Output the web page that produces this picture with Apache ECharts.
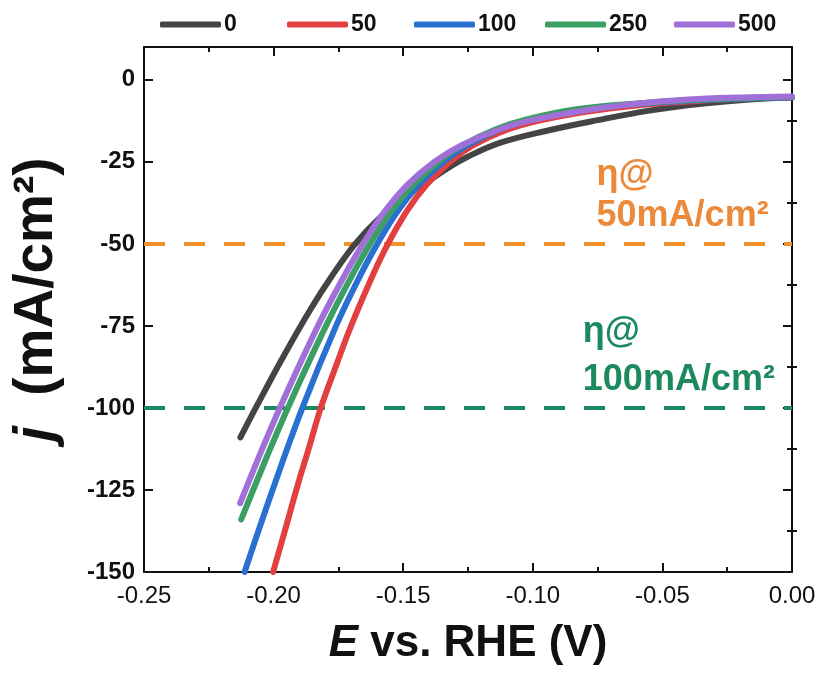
<!DOCTYPE html>
<html>
<head>
<meta charset="utf-8">
<script src="https://cdn.jsdelivr.net/npm/echarts@6/dist/echarts.min.js"></script>
<style>
html,body{margin:0;padding:0;background:#fff;}
#chart{width:824px;height:687px;}
</style>
</head>
<body>
<div id="chart"></div>
<script>
// ---- data (E in V vs RHE, j in mA/cm2) ----
const seriesNames = ['0', '50', '100', '250', '500'];
const seriesColors = ['#444444', '#e2403f', '#2a6fd2', '#3b9e62', '#a070d8'];

const E_0 = [-0.2128,-0.2069,-0.1967,-0.1858,-0.1777,-0.1685,-0.1590,-0.1490,-0.1400,-0.1325,-0.1255,-0.1130,-0.0950,-0.0750,-0.0550,-0.0350,-0.0150,0.0000];
const J_0 = [-109,-100,-85,-70,-60,-50,-42,-35.5,-30.7,-26.8,-23.6,-19.3,-15.6,-12.3,-9.4,-7.3,-5.9,-5.4];

const E_50 = [-0.2002,-0.1955,-0.1907,-0.1863,-0.1818,-0.1770,-0.1701,-0.1620,-0.1559,-0.1486,-0.1410,-0.1320,-0.1231,-0.1110,-0.0980,-0.0800,-0.0600,-0.0400,-0.0200,0.0000];
const J_50 = [-150,-137,-123.5,-112,-100,-89.5,-75,-60,-50,-40,-32,-25,-20,-15.5,-12.5,-9.8,-7.8,-6.6,-5.8,-5.3];

const E_100 = [-0.2112,-0.2004,-0.1889,-0.1759,-0.1668,-0.1600,-0.1521,-0.1440,-0.1345,-0.1254,-0.1124,-0.1004,-0.0817,-0.0600,-0.0400,-0.0200,0.0000];
const J_100 = [-150,-125,-100,-75,-60,-50,-40,-32,-25,-20,-15,-12,-9,-7.4,-6.4,-5.8,-5.3];

const E_250 = [-0.2125,-0.2037,-0.1945,-0.1798,-0.1700,-0.1628,-0.1545,-0.1461,-0.1364,-0.1272,-0.1140,-0.1020,-0.0830,-0.0600,-0.0400,-0.0200,0.0000];
const J_250 = [-134,-117,-100,-75,-60,-50,-40,-32,-25,-20,-15,-12,-9,-7.2,-6.2,-5.6,-5.2];

const E_500 = [-0.2129,-0.2057,-0.1976,-0.1829,-0.1729,-0.1655,-0.1570,-0.1484,-0.1380,-0.1276,-0.1124,-0.0985,-0.0771,-0.0600,-0.0400,-0.0200,0.0000];
const J_500 = [-129,-115,-100,-75,-60,-50,-40,-32,-25,-20,-15,-12,-9,-7.3,-6.0,-5.4,-5.1];

const E_list = [E_0, E_50, E_100, E_250, E_500];
const J_list = [J_0, J_50, J_100, J_250, J_500];

// reference levels
const refLevels = [-50, -100];
const refColors = ['#f2922a', '#1c8a5e'];
const refTextColors = ['#ec8a3c', '#1c8a5e'];
const refTextLines = [['η@', '50mA/cm²'], ['η@', '100mA/cm²']];
const refTextE = [-0.0754, -0.0807];
const refTextJ = [[-29, -41.5], [-77, -91.6]];

// axis ticks
const xMin = -0.25, xMax = 0.0, xStep = 0.05;
const yMin = -150, yMax = 10;
const yMajor = [-150, -125, -100, -75, -50, -25, 0];
const yMinor = [-137.5, -112.5, -87.5, -62.5, -37.5, -12.5];

// legend horizontal starts
const legendLeft = [155, 282, 409, 540, 669];

// ---- chart ----
const chart = echarts.init(document.getElementById('chart'), null, {renderer: 'canvas'});
const FONT = '"Liberation Sans", Arial, sans-serif';

const curveSeries = seriesNames.map((n, i) => ({
  name: n,
  type: 'line',
  xAxisIndex: 0, yAxisIndex: 0,
  data: E_list[i].map((e, k) => [e, J_list[i][k]]),
  showSymbol: false,
  symbol: 'none',
  smooth: 0.4,
  z: 3,
  lineStyle: {color: seriesColors[i], width: 6, cap: 'round', join: 'round'},
  itemStyle: {color: seriesColors[i]}
}));

const markPoints = [];
refTextLines.forEach((lines, i) => {
  lines.forEach((t, k) => {
    markPoints.push({
      coord: [refTextE[i], refTextJ[i][k]],
      symbol: 'circle', symbolSize: 0,
      label: {
        show: true, formatter: t, position: [0, 0], align: 'left', verticalAlign: 'middle',
        color: refTextColors[i], fontFamily: FONT, fontWeight: 'bold', fontSize: 36
      }
    });
  });
});

const refSeries = {
  name: 'ref',
  type: 'line',
  xAxisIndex: 0, yAxisIndex: 0,
  data: [],
  z: 1,
  markLine: {
    silent: true, symbol: ['none', 'none'], z: 1,
    label: {show: false},
    data: refLevels.map((v, i) => ({
      yAxis: v,
      lineStyle: {color: refColors[i], width: 4, type: [21, 19]}
    }))
  },
  markPoint: {silent: true, data: markPoints}
};

const legends = seriesNames.map((n, i) => ({
  data: [n],
  left: legendLeft[i], top: 8,
  icon: 'roundRect', itemWidth: 61, itemHeight: 6,
  itemGap: 0,
  selectedMode: false,
  textStyle: {fontFamily: FONT, fontSize: 23, fontWeight: 'bold', color: '#111', padding: [0, 0, 0, -2]}
}));

const grid = {left: 144, right: 32, top: 47, bottom: 115, containLabel: false};

const axisLine = {show: true, onZero: false, lineStyle: {color: '#111', width: 2}};

const option = {
  backgroundColor: '#ffffff',
  animation: false,
  legend: legends,
  grid: grid,
  xAxis: [
    {
      type: 'value', position: 'bottom', min: xMin, max: xMax, interval: xStep,
      axisLine: axisLine,
      axisTick: {show: true, inside: true, length: 9, lineStyle: {color: '#111', width: 2}},
      minorTick: {show: true, splitNumber: 2, length: 5, lineStyle: {color: '#111', width: 2}},
      splitLine: {show: false}, minorSplitLine: {show: false},
      axisLabel: {
        margin: 12, fontFamily: FONT, fontSize: 24, color: '#111',
        formatter: v => (Math.abs(v) < 1e-9 ? 0 : v).toFixed(2)
      },
      name: '{i|E} vs. RHE (V)', nameLocation: 'middle', nameGap: 50,
      nameTextStyle: {
        fontFamily: FONT, fontSize: 44, fontWeight: 'bold', color: '#111',
        rich: {i: {fontFamily: FONT, fontSize: 44, fontWeight: 'bold', fontStyle: 'italic', color: '#111'}}
      }
    },
    {
      type: 'value', position: 'top', min: xMin, max: xMax, interval: xStep,
      axisLine: axisLine,
      axisTick: {show: true, inside: true, length: 9, lineStyle: {color: '#111', width: 2}},
      minorTick: {show: true, splitNumber: 2, length: 5, lineStyle: {color: '#111', width: 2}},
      splitLine: {show: false},
      axisLabel: {show: false}
    }
  ],
  yAxis: [
    {
      type: 'value', position: 'left', min: yMin, max: yMax,
      axisLine: axisLine,
      axisTick: {show: true, inside: true, length: 9, customValues: yMajor, lineStyle: {color: '#111', width: 2}},
      splitLine: {show: false},
      axisLabel: {
        customValues: yMajor, margin: 9, fontFamily: FONT, fontSize: 24, fontWeight: 'bold', color: '#111'
      },
      name: '{i|j}  (mA/cm²)', nameLocation: 'middle', nameRotate: 90, nameGap: 80,
      nameTextStyle: {
        fontFamily: FONT, fontSize: 55, fontWeight: 'bold', color: '#111', padding: [0, 0, 0, 20],
        rich: {i: {fontFamily: FONT, fontSize: 55, fontWeight: 'bold', fontStyle: 'italic', color: '#111'}}
      }
    },
    {
      type: 'value', position: 'left', min: yMin, max: yMax,
      axisLine: {show: false},
      axisTick: {show: true, inside: true, length: 5, customValues: yMinor, lineStyle: {color: '#111', width: 2}},
      splitLine: {show: false},
      axisLabel: {show: false}
    },
    {
      type: 'value', position: 'right', min: yMin, max: yMax,
      axisLine: axisLine,
      axisTick: {show: true, inside: true, length: 9, customValues: yMajor, lineStyle: {color: '#111', width: 2}},
      splitLine: {show: false},
      axisLabel: {show: false}
    },
    {
      type: 'value', position: 'right', min: yMin, max: yMax,
      axisLine: {show: false},
      axisTick: {show: true, inside: true, length: 5, customValues: yMinor, lineStyle: {color: '#111', width: 2}},
      splitLine: {show: false},
      axisLabel: {show: false}
    }
  ],
  series: [refSeries].concat(curveSeries)
};

chart.setOption(option);
</script>
</body>
</html>
